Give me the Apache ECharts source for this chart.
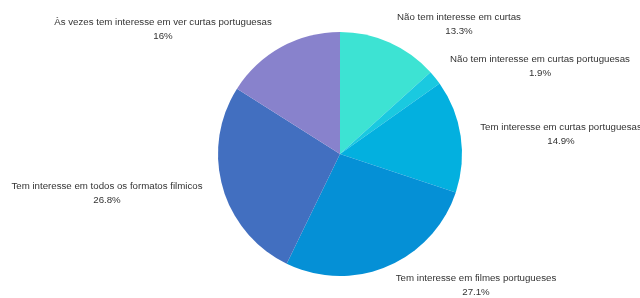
<!DOCTYPE html>
<html>
<head>
<meta charset="utf-8">
<script src="https://cdn.jsdelivr.net/npm/echarts@6/dist/echarts.min.js"></script>
<style>
  html, body { margin: 0; padding: 0; background: #fff; }
  #chart { width: 640px; height: 298px; }
</style>
</head>
<body>
<div id="chart"></div>
<script>
  // categories and shares (%) clockwise from 12 o'clock
  var categories = [
    'Não tem interesse em curtas',
    'Não tem interesse em curtas portuguesas',
    'Tem interesse em curtas portuguesas',
    'Tem interesse em filmes portugueses',
    'Tem interesse em todos os formatos filmicos',
    'Às vezes tem interesse em ver curtas portuguesas'
  ]
  var shares = [13.3, 1.9, 14.9, 27.1, 26.8, 16]
  var colors = ['#3de3d3', '#1ac9e0', '#03b0df', '#0590d6', '#426fc0', '#8882cc']
  // where each label block sits (centre of the two lines)
  var labelPos = [[459, 24], [540, 66], [561, 134], [476, 285], [107, 193], [163, 29]]

  var dom = echarts.init(document.getElementById('chart'))
  var option = {
    animation: false,
    series: [
      {
        type: 'pie',
        center: [340, 154],
        radius: 122,
        startAngle: 90,
        clockwise: true,
        data: categories.map(function (name, i) {
          return { name: name, value: shares[i], itemStyle: { color: colors[i] } }
        }),
        label: {
          show: true,
          position: 'outside',
          alignTo: 'none',
          overflow: 'none',
          color: '#333',
          fontFamily: 'Liberation Sans',
          fontSize: 9.7,
          lineHeight: 14,
          align: 'center',
          formatter: function (p) {
            return p.name + '\n' + p.value + '%'
          }
        },
        labelLine: { show: false },
        labelLayout: function (p) {
          var pos = labelPos[p.dataIndex]
          return { x: pos[0], y: pos[1], align: 'center', verticalAlign: 'middle' }
        }
      }
    ]
  }
  dom.setOption(option)
</script>
</body>
</html>
